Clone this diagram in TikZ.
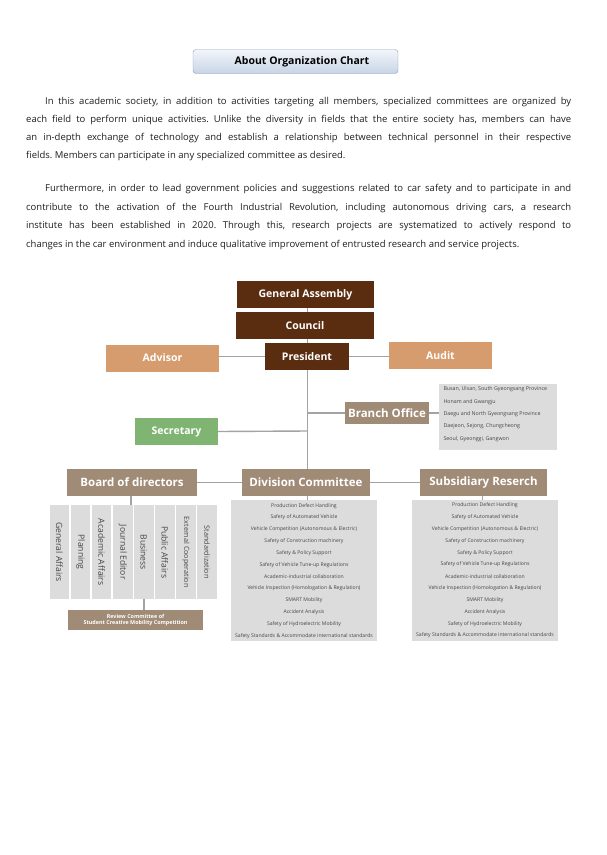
\documentclass[tikz,border=0pt]{standalone}
\usepackage{fontspec}
\setmainfont{Open Sans}
\frenchspacing
\definecolor{dkbrown}{HTML}{5B2D10}
\definecolor{tanbox}{HTML}{D69C6E}
\definecolor{taupe}{HTML}{A08B76}
\definecolor{sgreen}{HTML}{80B473}
\definecolor{lgray}{HTML}{DCDCDC}
\definecolor{lnclr}{HTML}{A3A3A3}
\definecolor{txtgray}{HTML}{454545}
\definecolor{bodytxt}{HTML}{1E1E1E}
\definecolor{ttltop}{HTML}{F3F6FB}
\definecolor{ttlbot}{HTML}{C7D4E6}
\definecolor{ttlbrd}{HTML}{8C9CB5}
\tikzset{
  lbl/.style={inner sep=0, text=white, font=\bfseries\fontsize{10.5}{12}\selectfont, minimum height=27},
  dkbox/.style={lbl, fill=dkbrown},
  tnbox/.style={lbl, fill=tanbox},
  tpbox/.style={lbl, fill=taupe, font=\bfseries\fontsize{11.5}{13}\selectfont},
  grbox/.style={lbl, fill=sgreen},
  graybox/.style={fill=lgray, inner sep=0},
  col/.style={graybox, minimum width=19.5, minimum height=94},
  coltxt/.style={rotate=-90, inner sep=0, text=txtgray, font=\fontsize{8.6}{9}\selectfont},
  item/.style={inner sep=0, text=txtgray, font=\fontsize{5.1}{6}\selectfont},
  conn/.style={draw=lnclr, line width=1.4},
  body/.style={anchor=base west, inner sep=0, text=bodytxt, font=\fontsize{9.5}{11}\selectfont},
}
\begin{document}
\begin{tikzpicture}[x=1pt,y=-1pt]
\useasboundingbox (0,0) rectangle (606,855);
% title
\node[draw=ttlbrd, rounded corners=3, top color=ttltop, bottom color=ttlbot, minimum width=205, minimum height=24, inner sep=0, font=\bfseries\fontsize{10.5}{12}\selectfont] (title) at (295.5,61.5) {\hspace*{13pt}About Organization Chart};
% paragraph 1
\node[body] (p1a) at (45,104.5) {\makebox[526pt][s]{In this academic society, in addition to activities targeting all members, specialized committees are organized by}};
\node[body] (p1b) at (26,122.5) {\makebox[545pt][s]{each field to perform unique activities. Unlike the diversity in fields that the entire society has, members can have}};
\node[body] (p1c) at (26,140.5) {\makebox[545pt][s]{an in-depth exchange of technology and establish a relationship between technical personnel in their respective}};
\node[body] (p1d) at (26,158.5) {fields. Members can participate in any specialized committee as desired.};
% paragraph 2
\node[body] (p2a) at (45,191.5) {\makebox[526pt][s]{Furthermore, in order to lead government policies and suggestions related to car safety and to participate in and}};
\node[body] (p2b) at (26,210) {\makebox[545pt][s]{contribute to the activation of the Fourth Industrial Revolution, including autonomous driving cars, a research}};
\node[body] (p2c) at (26,228.5) {\makebox[545pt][s]{institute has been established in 2020. Through this, research projects are systematized to actively respond to}};
\node[body] (p2d) at (26,247) {changes in the car environment and induce qualitative improvement of entrusted research and service projects.};

% chart nodes
\node[dkbox, minimum width=137] (ga) at (305.5,294.5) {General Assembly};
\node[dkbox, minimum width=138] (council) at (305,325.5) {Council};
\node[dkbox, minimum width=84] (pres) at (307,356.5) {President};
\node[tnbox, minimum width=113] (adv) at (162.5,358) {Advisor};
\node[tnbox, minimum width=103] (audit) at (440.5,355.5) {Audit};
\node[tpbox, minimum width=84, minimum height=22] (branch) at (387,413) {Branch Office};
\node[grbox, minimum width=83] (sec) at (176.5,431.5) {Secretary};
\node[tpbox, minimum width=130] (board) at (132,482.5) {Board of directors};
\node[tpbox, minimum width=128] (div) at (306,482.5) {Division Committee};
\node[tpbox, minimum width=127] (sub) at (483.5,482.5) {Subsidiary Reserch};

% branch list
\node[graybox, anchor=north west, minimum width=118, minimum height=66] (blist) at (439,384) {};
\foreach \t [count=\k from 0] in {{Busan, Ulsan, South Gyeongsang Province},{Honam and Gwangju},{Daegu and North Gyeongsang Province},{Daejeon, Sejong, Chungcheong},{Seoul, Gyeonggi, Gangwon}}
  \node[item, anchor=west, font=\fontsize{5.3}{6}\selectfont] (b\k) at (443.3,389.3+12.35*\k) {\t};

% division & subsidiary lists
\node[graybox, anchor=north west, minimum width=146, minimum height=141] (dlist) at (231,500) {};
\node[graybox, anchor=north west, minimum width=146, minimum height=141] (slist) at (412,500) {};
\foreach \t [count=\k from 0] in {{Production Defect Handling},{Safety of Automated Vehicle},{Vehicle Competition (Autonomous \& Electric)},{Safety of Construction machinery},{Safety \& Policy Support},{Safety of Vehicle Tune-up Regulations},{Academic-industrial collaboration},{Vehicle Inspection (Homologation \& Regulation)},{SMART Mobility},{Accident Analysis},{Safety of Hydroelectric Mobility},{Safety Standards \& Accommodate international standards}}{
  \node[item] (d\k) at (304,505.7+11.82*\k) {\t};
  \node[item] (s\k) at (485,505.5+11.82*\k) {\t};
}

% board columns
\foreach \t [count=\k from 0] in {{General Affairs},{Planning},{Academic Affairs},{Journal Editor},{Business},{Public Affairs}}{
  \node[col, anchor=north west] (c\k) at (49.5+21.1*\k,505) {};
  \node[coltxt] at (c\k.center) {\t};
}
\node[col, anchor=north west] (c6) at (49.5+21.1*6,505) {};
\node[coltxt, font=\fontsize{7.2}{8}\selectfont] at (c6.center) {External Cooperation};
\node[col, anchor=north west] (c7) at (49.5+21.1*7,505) {};
\node[coltxt, font=\fontsize{7.2}{8}\selectfont] at (c7.center) {Standardization};

\node[lbl, fill=taupe, minimum width=135, minimum height=20, align=center, font=\bfseries\fontsize{5.4}{6.4}\selectfont] (rev) at (135.5,620) {Review Committee of\\Student Creative Mobility Competition};

% connectors
\coordinate (trunkTop) at (307.5,308);
\coordinate (tBranch) at (307.5,413);
\coordinate (tSec) at (307.5,431);
\draw[conn] (ga.south -| trunkTop) -- (council.north -| trunkTop);
\draw[conn] (council.south -| trunkTop) -- (pres.north -| trunkTop);
\draw[conn] (pres.south -| trunkTop) -- (div.north -| trunkTop);
\draw[conn] (adv.east |- pres.west) -- (pres.west);
\draw[conn] (pres.east) -- (audit.west |- pres.east);
\draw[conn] (tBranch) -- (branch.west);
\draw[conn] (branch.east) -- (blist.west |- branch.east);
\draw[conn] (sec.east) -- (tSec);
\draw[conn] (board.east) -- (div.west);
\draw[conn] (div.east) -- (sub.west);
\draw[conn] (board.south -| 131,0) -- (c3.north -| 131,0);
\draw[conn] (c4.south) -- (rev.north -| c4.south);
\draw[conn] (div.south -| trunkTop) -- (dlist.north -| trunkTop);
\draw[conn] (sub.south -| 482.3,0) -- (slist.north -| 482.3,0);
\end{tikzpicture}
\end{document}
